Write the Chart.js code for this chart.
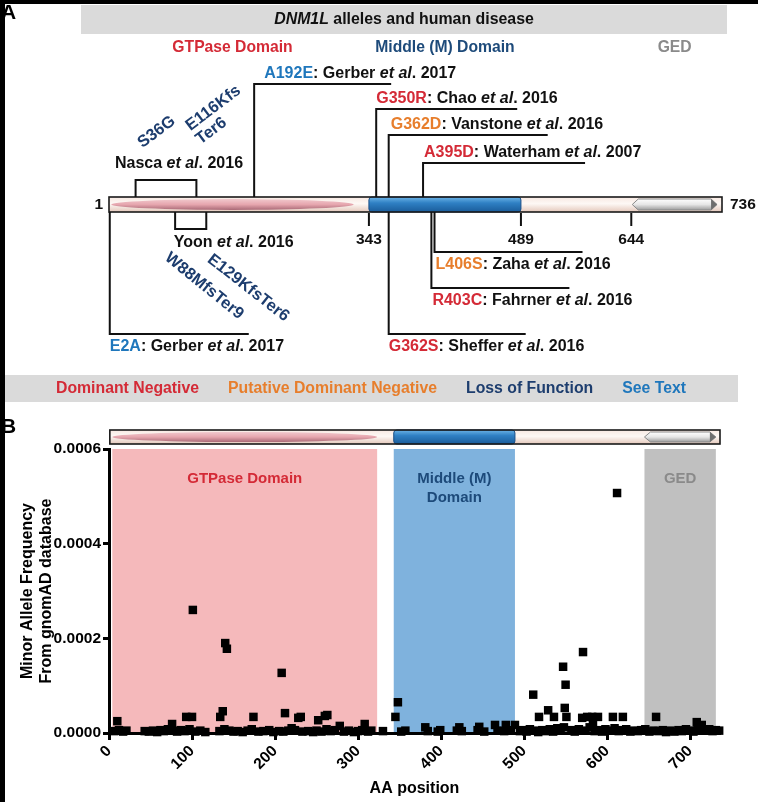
<!DOCTYPE html>
<html>
<head>
<meta charset="utf-8">
<script src="https://cdn.jsdelivr.net/npm/chart.js@4.4.1/dist/chart.umd.min.js"></script>
<style>
  html, body { margin: 0; padding: 0; background: #fff; }
  #fig { position: relative; width: 758px; height: 802px; overflow: hidden; background: #fff; }
  #fig canvas { position: absolute; left: 0; }
  .frame { position: absolute; background: #000; }
</style>
</head>
<body>
<div id="fig">
  <canvas id="panelA" width="758" height="415" style="top:0"></canvas>
  <canvas id="panelB" width="758" height="387" style="top:415px"></canvas>
  <div class="frame" style="left:0;top:0;width:758px;height:4px"></div>
  <div class="frame" style="left:0;top:0;width:5px;height:802px"></div>
</div>
<script>
const FONT = '"Liberation Sans", Arial, Helvetica, sans-serif';

// protein landmarks and domains (amino acid positions)
const barTicks = [1, 343, 489, 644, 736];
const domainNames = ['GTPase Domain', 'Middle (M) Domain', 'GED'];
const domainStart = [4, 343, 645];
const domainEnd = [323, 489, 731];

// reported alleles (panel A)
const alleleNames = ['A192E', 'G350R', 'G362D', 'A395D', 'L406S', 'R403C', 'G362S', 'E2A'];
const alleleAA = [192, 350, 362, 395, 406, 403, 362, 2];
const alleleAuthors = ['Gerber', 'Chao', 'Vanstone', 'Waterham', 'Zaha', 'Fahrner', 'Sheffer', 'Gerber'];
const alleleYears = [2017, 2016, 2016, 2007, 2016, 2016, 2016, 2017];
const alleleClass = ['See Text', 'Dominant Negative', 'Putative Dominant Negative', 'Dominant Negative',
                     'Putative Dominant Negative', 'Dominant Negative', 'Dominant Negative', 'See Text'];

// bracketed loss-of-function reports
const lofAuthors = ['Nasca', 'Yoon'];
const lofYears = [2016, 2016];
const lofNames = [['S36G', 'E116Kfs Ter6'], ['W88MfsTer9', 'E129KfsTer6']];
const lofAA = [[36, 116], [88, 129]];

const classNames = ['Dominant Negative', 'Putative Dominant Negative', 'Loss of Function', 'See Text'];
const classColors = ['#d42a36', '#e77e2c', '#1d3d6e', '#1f77bc'];

// gnomAD variants (panel B)
const variantAA = [
    6,  10,  12,  17,  21,  43,  48,  53,  58,  62,
   66,  71,  76,  78,  82,  87,  91,  93,  97, 100,
  101, 104, 110, 116, 133, 134, 137, 139, 140, 142,
  145, 150, 155, 161, 167, 172, 174, 180, 186, 193,
  198, 205, 208, 210, 212, 216, 220, 224, 228, 231,
  233, 240, 246, 250, 252, 256, 260, 262, 263, 267,
  272, 278, 283, 289, 295, 300, 305, 308, 312, 316,
  330, 345, 348, 352, 357, 381, 384, 396, 399, 419,
  422, 425, 444, 446, 452, 465, 468, 476, 478, 484,
  489, 495, 499, 503, 507, 511, 513, 517, 518, 522,
  526, 529, 531, 535, 536, 540, 544, 547, 548, 549,
  550, 551, 557, 561, 566, 570, 571, 574, 576, 579,
  582, 583, 585, 589, 590, 594, 598, 603, 607, 609,
  612, 614, 618, 619, 623, 628, 632, 637, 641, 646,
  651, 656, 659, 662, 667, 671, 676, 681, 686, 690,
  695, 700, 704, 708, 709, 713, 714, 718, 723, 727,
  731, 735
];
const variantMAF = [
  0.000004, 0.000025, 0.000006, 0.000003, 0.000005, 0.000004, 0.000003, 0.000005, 0.000002, 0.000006,
  0.000004, 0.000008, 0.000019, 0.000005, 0.000003, 0.000006, 0.000004, 0.000034, 0.000008, 0.000034,
  0.000260, 0.000003, 0.000005, 0.000002, 0.000004, 0.000034, 0.000046, 0.000008, 0.000190, 0.000178,
  0.000005, 0.000003, 0.000004, 0.000002, 0.000005, 0.000008, 0.000034, 0.000003, 0.000004, 0.000006,
  0.000002, 0.000004, 0.000127, 0.000003, 0.000042, 0.000005, 0.000010, 0.000006, 0.000032, 0.000034,
  0.000003, 0.000004, 0.000002, 0.000005, 0.000027, 0.000003, 0.000036, 0.000008, 0.000038, 0.000004,
  0.000006, 0.000015, 0.000003, 0.000005, 0.000002, 0.000004, 0.000006, 0.000019, 0.000003, 0.000005,
  0.000004, 0.000034, 0.000065, 0.000003, 0.000005, 0.000012, 0.000004, 0.000003, 0.000006, 0.000005,
  0.000012, 0.000004, 0.000006, 0.000013, 0.000003, 0.000017, 0.000005, 0.000004, 0.000017, 0.000006,
  0.000017, 0.000004, 0.000006, 0.000003, 0.000008, 0.000081, 0.000005, 0.000002, 0.000034, 0.000006,
  0.000004, 0.000048, 0.000008, 0.000003, 0.000034, 0.000010, 0.000005, 0.000140, 0.000012, 0.000053,
  0.000102, 0.000034, 0.000006, 0.000003, 0.000008, 0.000032, 0.000171, 0.000005, 0.000034, 0.000012,
  0.000034, 0.000019, 0.000004, 0.000034, 0.000006, 0.000003, 0.000008, 0.000005, 0.000034, 0.000010,
  0.000507, 0.000004, 0.000006, 0.000034, 0.000008, 0.000003, 0.000005, 0.000004, 0.000006, 0.000008,
  0.000003, 0.000005, 0.000034, 0.000004, 0.000006, 0.000002, 0.000005, 0.000003, 0.000006, 0.000004,
  0.000008, 0.000005, 0.000003, 0.000023, 0.000006, 0.000012, 0.000017, 0.000005, 0.000008, 0.000004,
  0.000006, 0.000005
];
const aaTicks = [0, 100, 200, 300, 400, 500, 600, 700];
const mafTicks = [0, 0.0002, 0.0004, 0.0006];

// ---- layout (pixels) ----
// the panel A schematic is not to scale: where each numbered position sits along the bar (0..1)
const barKnotFrac = [0, 0.424, 0.672, 0.852, 1];
const alleleLayout = [
  { level: 84,  len: 137, dx: 10 },
  { level: 109, len: 141, dx: 0 },
  { level: 135, len: 159, dx: 2 },
  { level: 163, len: 162, dx: 1 },
  { level: 252, len: 148, dx: 1 },
  { level: 288, len: 138, dx: 1 },
  { level: 334, len: 137, dx: 0 },
  { level: 334, len: 139, dx: 0 }
];
const lofLayout = [
  { level: 180, textDx: 13, textY: 164, labels: [{ dx: 21, y: 132, rot: -37 }, { dx: 22, y: 115, rot: -37 }] },
  { level: 229, textDx: 43, textY: 243, labels: [{ dx: 29, y: 286, rot: 39 }, { dx: 42, y: 288, rot: 38 }] }
];
const domainTextColors = ['#d42a36', '#1d4a7a', '#8a8a8a'];
const bandColors = ['#f5b9bb', '#7fb2dd', '#c0c0c0'];
const bandLabels = [['GTPase Domain'], ['Middle (M)', 'Domain'], ['GED']];

// piecewise linear scale for the schematic bar
class SchematicScale extends Chart.LinearScale {
  getPixelForValue(value) {
    const v = barTicks, f = barKnotFrac;
    let d;
    if (value <= v[0]) d = f[0];
    else if (value >= v[v.length - 1]) d = f[f.length - 1];
    else {
      let i = 0;
      while (value > v[i + 1]) i++;
      d = f[i] + (value - v[i]) / (v[i + 1] - v[i]) * (f[i + 1] - f[i]);
    }
    return this.getPixelForDecimal(d);
  }
}
SchematicScale.id = 'schematic';
SchematicScale.defaults = Chart.LinearScale.defaults;
Chart.register(SchematicScale);

function rich(ctx, parts, x, y, size, align) {
  const font = p => (p.i ? 'italic ' : '') + 'bold ' + size + 'px ' + FONT;
  let w = 0;
  for (const p of parts) { ctx.font = font(p); w += ctx.measureText(p.t).width; }
  let cx = align === 'center' ? x - w / 2 : align === 'right' ? x - w : x;
  ctx.textAlign = 'left';
  ctx.textBaseline = 'middle';
  for (const p of parts) {
    ctx.font = font(p);
    ctx.fillStyle = p.c || '#111';
    ctx.fillText(p.t, cx, y);
    cx += ctx.measureText(p.t).width;
  }
  return w;
}

function drawProtein(ctx, xs, top, h) {
  const x0 = xs(barTicks[0]), x1 = xs(barTicks[barTicks.length - 1]);
  let g = ctx.createLinearGradient(0, top, 0, top + h);
  g.addColorStop(0, '#f8e9e2'); g.addColorStop(0.45, '#fdf8f5'); g.addColorStop(1, '#e4c8bb');
  ctx.fillStyle = g;
  ctx.fillRect(x0, top, x1 - x0, h);

  // GTPase ellipse
  const ex0 = xs(domainStart[0]), ex1 = xs(domainEnd[0]);
  g = ctx.createLinearGradient(0, top + 1, 0, top + h - 1);
  g.addColorStop(0, '#f3cfd3'); g.addColorStop(0.5, '#e6a6ae'); g.addColorStop(1, '#9e5e6c');
  ctx.fillStyle = g;
  ctx.beginPath();
  ctx.ellipse((ex0 + ex1) / 2, top + h / 2, (ex1 - ex0) / 2, h * 0.36, 0, 0, Math.PI * 2);
  ctx.fill();

  // middle domain
  const mx0 = xs(domainStart[1]), mx1 = xs(domainEnd[1]), r = 3;
  g = ctx.createLinearGradient(0, top, 0, top + h);
  g.addColorStop(0, '#6cb3e6'); g.addColorStop(0.4, '#2f80c4'); g.addColorStop(1, '#1a5c9a');
  ctx.fillStyle = g;
  ctx.beginPath();
  ctx.moveTo(mx0 + r, top);
  ctx.lineTo(mx1 - r, top); ctx.quadraticCurveTo(mx1, top, mx1, top + r);
  ctx.lineTo(mx1, top + h - r); ctx.quadraticCurveTo(mx1, top + h, mx1 - r, top + h);
  ctx.lineTo(mx0 + r, top + h); ctx.quadraticCurveTo(mx0, top + h, mx0, top + h - r);
  ctx.lineTo(mx0, top + r); ctx.quadraticCurveTo(mx0, top, mx0 + r, top);
  ctx.closePath();
  ctx.fill();
  ctx.strokeStyle = '#1b4f86'; ctx.lineWidth = 1; ctx.stroke();

  // GED arrow
  const gx0 = xs(domainStart[2]), gx1 = xs(domainEnd[2]);
  const ym = top + h / 2, t = top + 2, b = top + h - 2, tip = 6;
  g = ctx.createLinearGradient(0, t, 0, b);
  g.addColorStop(0, '#ffffff'); g.addColorStop(0.5, '#e6e6e6'); g.addColorStop(1, '#9c9c9c');
  ctx.fillStyle = g;
  ctx.beginPath();
  ctx.moveTo(gx0, ym); ctx.lineTo(gx0 + tip, t); ctx.lineTo(gx1 - tip, t);
  ctx.lineTo(gx1, ym); ctx.lineTo(gx1 - tip, b); ctx.lineTo(gx0 + tip, b);
  ctx.closePath();
  ctx.fill();
  ctx.strokeStyle = '#8a8a8a'; ctx.stroke();
  ctx.fillStyle = '#6e6e6e';
  ctx.beginPath();
  ctx.moveTo(gx1 - tip, t); ctx.lineTo(gx1, ym); ctx.lineTo(gx1 - tip, b);
  ctx.closePath();
  ctx.fill();

  ctx.strokeStyle = '#1a1a1a'; ctx.lineWidth = 1.6;
  ctx.strokeRect(x0, top, x1 - x0, h);
}

const panelAPlugin = {
  id: 'panelADraw',
  afterDraw(chart) {
    const ctx = chart.ctx, sx = chart.scales.x;
    const xs = v => sx.getPixelForValue(v);
    const barTop = 197, barH = 15, barBot = barTop + barH;
    ctx.save();

    // header
    ctx.fillStyle = '#dadada';
    ctx.fillRect(81, 5, 646, 29);
    rich(ctx, [{ t: 'DNM1L', i: true }, { t: ' alleles and human disease' }], 404, 20, 15.9, 'center');
    ctx.font = 'bold 21px ' + FONT;
    ctx.fillStyle = '#000'; ctx.textAlign = 'left'; ctx.textBaseline = 'middle';
    ctx.fillText('A', 1, 13);

    domainNames.forEach((n, i) => {
      rich(ctx, [{ t: n, c: domainTextColors[i] }], (xs(domainStart[i]) + xs(domainEnd[i])) / 2, 48, 15.7, 'center');
    });

    drawProtein(ctx, xs, barTop, barH);

    ctx.strokeStyle = '#111'; ctx.lineWidth = 2;
    barTicks.forEach((t, i) => {
      if (i === 0) rich(ctx, [{ t: String(t) }], xs(t) - 6, barTop + barH / 2, 15.5, 'right');
      else if (i === barTicks.length - 1) rich(ctx, [{ t: String(t) }], xs(t) + 8, barTop + barH / 2, 15.5, 'left');
      else {
        ctx.beginPath(); ctx.moveTo(xs(t), barBot + 1); ctx.lineTo(xs(t), barBot + 14); ctx.stroke();
        rich(ctx, [{ t: String(t) }], xs(t), barBot + 28, 15.5, 'center');
      }
    });

    // single alleles
    alleleNames.forEach((name, i) => {
      const L = alleleLayout[i], x0 = xs(alleleAA[i]);
      const up = L.level < barTop;
      ctx.strokeStyle = '#111'; ctx.lineWidth = 2;
      ctx.beginPath();
      ctx.moveTo(x0, up ? barTop : barBot);
      ctx.lineTo(x0, L.level);
      ctx.lineTo(x0 + L.len, L.level);
      ctx.stroke();
      const col = classColors[classNames.indexOf(alleleClass[i])];
      rich(ctx, [{ t: name, c: col }, { t: ': ' + alleleAuthors[i] + ' ' }, { t: 'et al', i: true }, { t: '. ' + alleleYears[i] }],
        x0 + L.dx, up ? L.level - 10 : L.level + 13, 16, 'left');
    });

    // bracketed reports
    lofAuthors.forEach((a, gi) => {
      const L = lofLayout[gi];
      const p = xs(lofAA[gi][0]), q = xs(lofAA[gi][1]);
      const up = L.level < barTop, base = up ? barTop : barBot;
      ctx.strokeStyle = '#111'; ctx.lineWidth = 2;
      ctx.beginPath();
      ctx.moveTo(p, base); ctx.lineTo(p, L.level); ctx.lineTo(q, L.level); ctx.lineTo(q, base);
      ctx.stroke();
      rich(ctx, [{ t: a + ' ' }, { t: 'et al', i: true }, { t: '. ' + lofYears[gi] }], (p + q) / 2 + L.textDx, L.textY, 16, 'center');
      lofNames[gi].forEach((label, k) => {
        const s = L.labels[k], lines = label.split(' '), lh = 17;
        ctx.save();
        ctx.translate(xs(lofAA[gi][k]) + s.dx, s.y);
        ctx.rotate(s.rot * Math.PI / 180);
        ctx.font = 'bold 16.5px ' + FONT;
        ctx.fillStyle = classColors[2];
        ctx.textAlign = 'left'; ctx.textBaseline = 'middle';
        const w = Math.max(...lines.map(l => ctx.measureText(l).width));
        lines.forEach((l, j) => ctx.fillText(l, -w / 2, (j - (lines.length - 1) / 2) * lh));
        ctx.restore();
      });
    });

    // class key
    ctx.fillStyle = '#dadada';
    ctx.fillRect(0, 375, 738, 27);
    let lx = 56;
    classNames.forEach((n, i) => {
      lx += rich(ctx, [{ t: n, c: classColors[i] }], lx, 389, 15.8, 'left') + 29;
    });
    ctx.restore();
  }
};

const panelBPlugin = {
  id: 'panelBDraw',
  beforeDraw(chart) {
    const ctx = chart.ctx, { x, y } = chart.scales;
    const yTop = y.getPixelForValue(mafTicks[mafTicks.length - 1]), yBot = y.getPixelForValue(0);
    ctx.save();
    domainNames.forEach((n, i) => {
      const x0 = x.getPixelForValue(domainStart[i]), x1 = x.getPixelForValue(domainEnd[i]);
      ctx.fillStyle = bandColors[i];
      ctx.fillRect(x0, yTop, x1 - x0, yBot - yTop);
      bandLabels[i].forEach((l, j) => {
        rich(ctx, [{ t: l, c: domainTextColors[i] }], (x0 + x1) / 2, yTop + 30 + j * 19, 15, 'center');
      });
    });
    drawProtein(ctx, v => x.getPixelForValue(v), 15, 14);
    ctx.font = 'bold 21px ' + FONT;
    ctx.fillStyle = '#000'; ctx.textAlign = 'left'; ctx.textBaseline = 'middle';
    ctx.fillText('B', 1, 12);
    ctx.restore();
  }
};

new Chart(document.getElementById('panelA'), {
  type: 'scatter',
  data: { datasets: [{ data: [] }] },
  options: {
    responsive: false,
    animation: false,
    events: [],
    layout: { padding: { left: 109, right: 36, top: 0, bottom: 0 } },
    plugins: { legend: { display: false }, tooltip: { enabled: false } },
    scales: {
      x: { type: 'schematic', min: barTicks[0], max: barTicks[barTicks.length - 1], display: false },
      y: { display: false }
    }
  },
  plugins: [panelAPlugin]
});

const tickFont = { family: FONT, size: 15.5, weight: 'bold' };
const titleFont = { family: FONT, size: 16, weight: 'bold' };

new Chart(document.getElementById('panelB'), {
  type: 'scatter',
  data: {
    datasets: [{
      data: variantAA.map((aa, i) => ({ x: aa, y: variantMAF[i] })),
      pointStyle: 'rect',
      pointRadius: 6,
      pointHoverRadius: 6,
      backgroundColor: '#000',
      borderWidth: 0,
      clip: false
    }]
  },
  options: {
    responsive: false,
    animation: false,
    events: [],
    layout: { padding: { top: 34, right: 38, left: 0, bottom: 0 } },
    plugins: { legend: { display: false }, tooltip: { enabled: false } },
    scales: {
      x: {
        type: 'linear',
        min: 0,
        max: barTicks[barTicks.length - 1],
        afterFit: s => { s.height = 69; },
        afterBuildTicks: s => { s.ticks = aaTicks.map(v => ({ value: v })); },
        ticks: { minRotation: 45, maxRotation: 45, autoSkip: false, color: '#000', font: tickFont, padding: 2 },
        grid: { drawOnChartArea: false, drawTicks: true, tickLength: 7, tickWidth: 3, tickColor: '#000' },
        border: { display: true, color: '#000', width: 3 },
        title: { display: true, text: 'AA position', color: '#000', font: titleFont, padding: { top: 0, bottom: 4 } }
      },
      y: {
        min: 0,
        max: mafTicks[mafTicks.length - 1],
        afterFit: s => { s.width = 109; },
        afterBuildTicks: s => { s.ticks = mafTicks.map(v => ({ value: v })); },
        ticks: { callback: v => v.toFixed(4), color: '#000', font: tickFont, padding: 2 },
        grid: { drawOnChartArea: false, drawTicks: true, tickLength: 6, tickWidth: 3, tickColor: '#000' },
        border: { display: true, color: '#000', width: 3 },
        title: { display: true, text: ['Minor Allele Frequency', 'From gnomAD database'], color: '#000', font: titleFont, padding: { top: 18, bottom: 0 } }
      }
    }
  },
  plugins: [panelBPlugin]
});
</script>
</body>
</html>
